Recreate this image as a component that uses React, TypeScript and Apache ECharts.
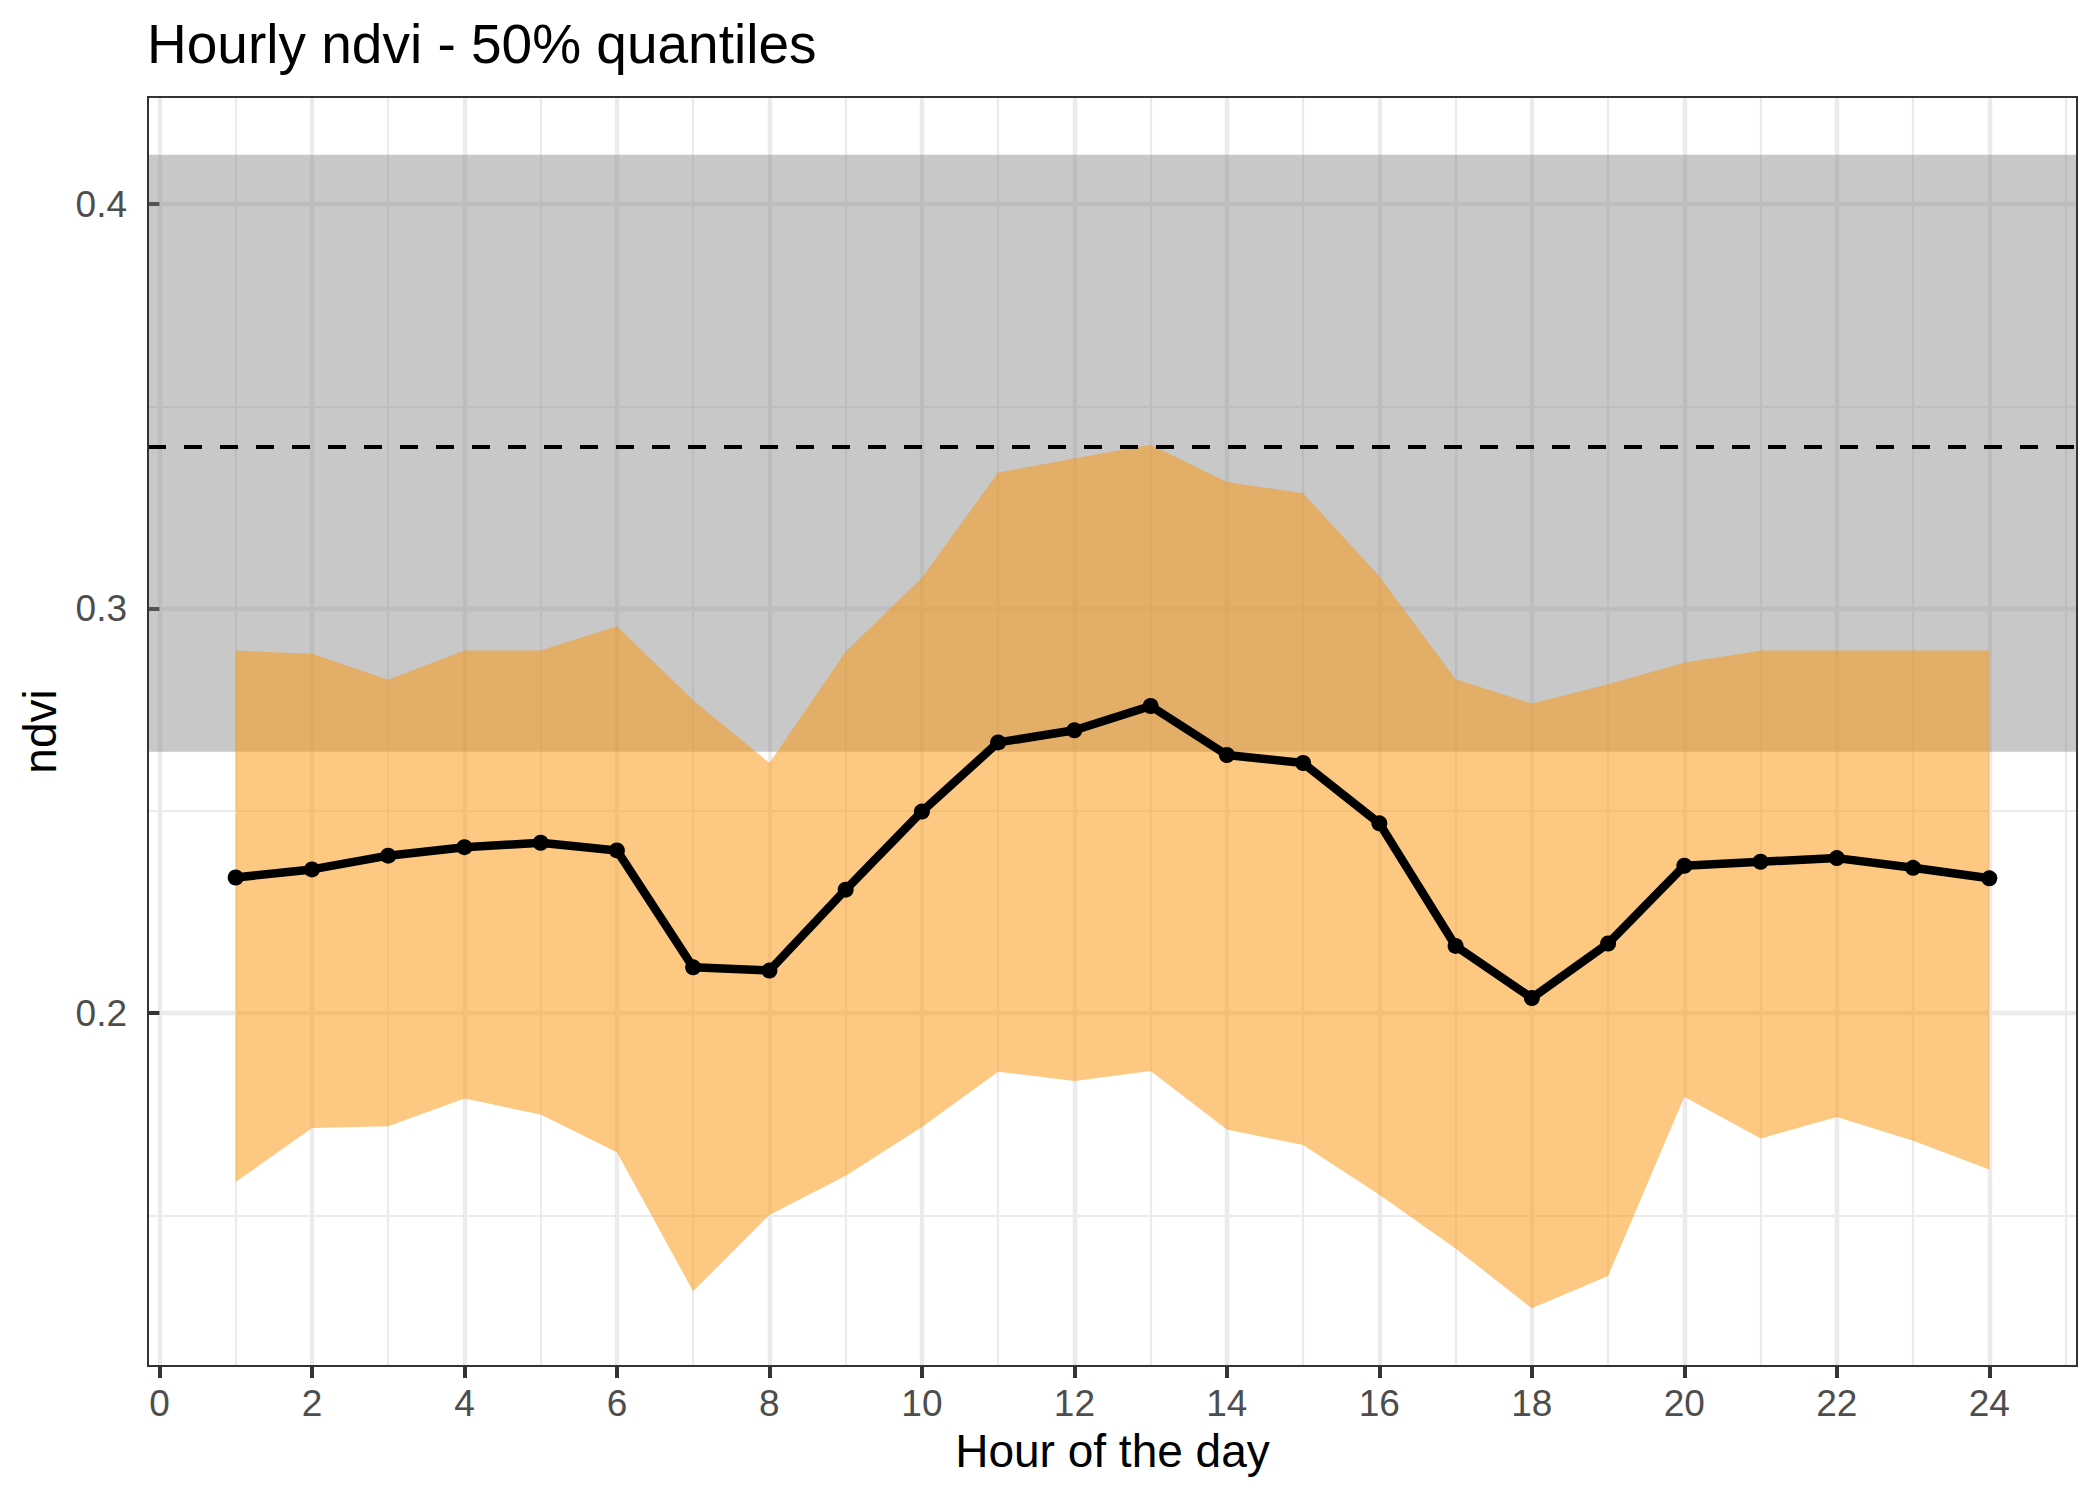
import React, { useEffect, useRef } from "react";
import * as echarts from "echarts";

const hours = [1, 2, 3, 4, 5, 6, 7, 8, 9, 10, 11, 12, 13, 14, 15, 16, 17, 18, 19, 20, 21, 22, 23, 24];
const median = [0.2335, 0.2355, 0.2389, 0.241, 0.2421, 0.2402, 0.2113, 0.2105, 0.2305, 0.2498, 0.2669, 0.2699, 0.2759, 0.2638, 0.2618, 0.2469, 0.2166, 0.2037, 0.2172, 0.2364, 0.2374, 0.2383, 0.2359, 0.2333];
const upper = [0.2896, 0.2888, 0.2824, 0.2896, 0.2896, 0.2956, 0.2773, 0.2618, 0.2893, 0.3076, 0.3336, 0.3371, 0.3405, 0.3313, 0.3285, 0.308, 0.2825, 0.2765, 0.2813, 0.2866, 0.2896, 0.2896, 0.2896, 0.2896];
const lower = [0.1582, 0.1716, 0.172, 0.1789, 0.1749, 0.1656, 0.1312, 0.1501, 0.1598, 0.1718, 0.1855, 0.1832, 0.1857, 0.1712, 0.1674, 0.1551, 0.1418, 0.127, 0.135, 0.1793, 0.169, 0.1743, 0.1684, 0.1613];
const bandRange = [0.2646, 0.4122];
const referenceLevel = 0.3402;
const xTickValues = [0, 2, 4, 6, 8, 10, 12, 14, 16, 18, 20, 22, 24];
const xMinorValues = [1, 3, 5, 7, 9, 11, 13, 15, 17, 19, 21, 23, 25];
const yTickValues = [0.2, 0.3, 0.4];
const yMinorValues = [0.15, 0.25, 0.35];

const FONT = "'Liberation Sans', Arial, Helvetica, sans-serif";

export default function App() {
  const ref = useRef<HTMLDivElement>(null);

  useEffect(() => {
    if (!ref.current) return;
    const chart = echarts.init(ref.current, null, { renderer: "svg" });

    const xLo = Math.min(...hours);
    const xHi = Math.max(...hours);
    const xSpan = xHi - xLo;
    const xMin = xLo - 0.05 * xSpan;
    const xMax = xHi + 0.05 * xSpan;

    const yLo = Math.min(...lower, bandRange[0]);
    const yHi = Math.max(...upper, bandRange[1], referenceLevel);
    const ySpan = yHi - yLo;
    const yMin = yLo - 0.05 * ySpan;
    const yMax = yHi + 0.05 * ySpan;

    const majorStyle = { color: "#EBEBEB", width: 4.4, type: "solid" as const };
    const minorStyle = { color: "#EBEBEB", width: 2.2, type: "solid" as const };

    const gridLines = [
      ...xMinorValues.map((v) => ({ xAxis: v, lineStyle: minorStyle })),
      ...yMinorValues.map((v) => ({ yAxis: v, lineStyle: minorStyle })),
      ...xTickValues.map((v) => ({ xAxis: v, lineStyle: majorStyle })),
      ...yTickValues.map((v) => ({ yAxis: v, lineStyle: majorStyle })),
    ];

    const option: any = {
      animation: false,
      backgroundColor: "#ffffff",
      title: {
        text: "Hourly ndvi - 50% quantiles",
        left: 147,
        top: 16,
        padding: 0,
        textStyle: { fontFamily: FONT, fontSize: 55, fontWeight: "normal", color: "#000000" },
      },
      grid: {
        left: 148,
        top: 97,
        width: 1929,
        height: 1269,
        show: true,
        z: 10,
        backgroundColor: "transparent",
        borderColor: "#333333",
        borderWidth: 2,
      },
      xAxis: {
        type: "value",
        min: xMin,
        max: xMax,
        name: "Hour of the day",
        nameLocation: "middle",
        nameGap: 62,
        nameTextStyle: { fontFamily: FONT, fontSize: 46, color: "#000000" },
        axisLine: { show: false },
        splitLine: { show: false },
        axisTick: {
          show: true,
          customValues: xTickValues,
          length: 12,
          lineStyle: { color: "#333333", width: 4 },
        },
        axisLabel: {
          customValues: xTickValues,
          margin: 19,
          fontFamily: FONT,
          fontSize: 37,
          color: "#4D4D4D",
          formatter: (v: number) => String(v),
        },
      },
      yAxis: {
        type: "value",
        min: yMin,
        max: yMax,
        name: "ndvi",
        nameLocation: "middle",
        nameGap: 85,
        nameRotate: 90,
        nameTextStyle: { fontFamily: FONT, fontSize: 46, color: "#000000" },
        axisLine: { show: false },
        splitLine: { show: false },
        axisTick: {
          show: true,
          customValues: yTickValues,
          length: 12,
          lineStyle: { color: "#333333", width: 4 },
        },
        axisLabel: {
          customValues: yTickValues,
          margin: 21,
          fontFamily: FONT,
          fontSize: 37,
          color: "#4D4D4D",
          formatter: (v: number) => v.toFixed(1),
        },
      },
      series: [
        {
          name: "background",
          type: "line",
          z: 1,
          data: hours.map((h, i) => [h, median[i]]),
          showSymbol: false,
          symbol: "none",
          lineStyle: { opacity: 0, width: 0 },
          silent: true,
          markLine: {
            z: 0,
            silent: true,
            symbol: ["none", "none"],
            label: { show: false },
            emphasis: { disabled: true },
            data: gridLines,
          },
          markArea: {
            z: 1,
            silent: true,
            label: { show: false },
            emphasis: { disabled: true },
            itemStyle: { color: "rgba(127,127,127,0.43)" },
            data: [[{ xAxis: xMin, yAxis: bandRange[0] }, { xAxis: xMax, yAxis: bandRange[1] }]],
          },
        },
        {
          name: "ribbon",
          type: "custom",
          z: 2,
          silent: true,
          clip: true,
          data: hours.map((h, i) => [h, lower[i], upper[i]]),
          encode: { x: 0, y: [1, 2] },
          renderItem: (params: any, api: any) => {
            if (params.dataIndex !== 0) return null;
            const top = hours.map((h, i) => api.coord([h, upper[i]]));
            const bottom = hours.map((h, i) => api.coord([h, lower[i]])).reverse();
            return {
              type: "polygon",
              shape: { points: top.concat(bottom) },
              style: { fill: "rgba(250,151,19,0.53)", stroke: "none" },
            };
          },
        },
        {
          name: "median",
          type: "line",
          z: 4,
          data: hours.map((h, i) => [h, median[i]]),
          symbol: "circle",
          symbolSize: 16,
          showSymbol: true,
          itemStyle: { color: "#000000" },
          lineStyle: { color: "#000000", width: 8.5 },
          silent: true,
          markLine: {
            z: 3,
            silent: true,
            symbol: ["none", "none"],
            label: { show: false },
            emphasis: { disabled: true },
            data: [{ yAxis: referenceLevel, lineStyle: { color: "#000000", width: 4, type: [18, 18] } }],
          },
        },
      ],
    };

    chart.setOption(option);
    return () => chart.dispose();
  }, []);

  return (
    <div
      ref={ref}
      style={{ position: "absolute", left: 0, top: 0, width: 2100, height: 1500, background: "#ffffff" }}
    />
  );
}
